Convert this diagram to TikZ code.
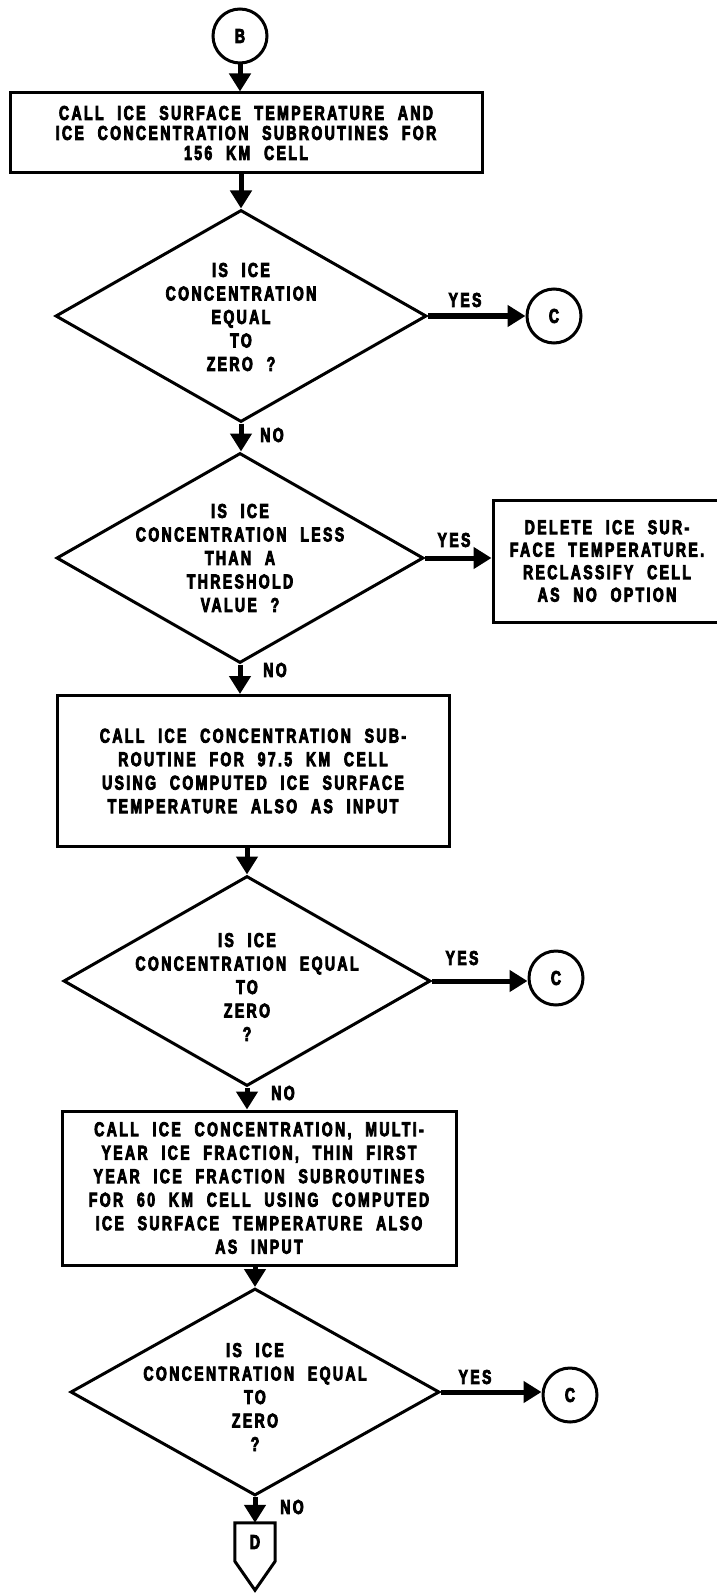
\documentclass[tikz,border=0pt]{standalone}
\usepackage{fontspec}
\setmainfont{Liberation Sans}[FakeStretch=0.7, LetterSpace=12, WordSpace=2.2, BoldFeatures={FakeBold=4}]
\usetikzlibrary{shapes.geometric,arrows.meta}

\newcommand{\chartfont}{\bfseries\fontsize{20}{23.5}\selectfont}

\tikzset{
  flow/.style={line width=5pt, -{Triangle[length=18pt,width=21pt]}},
  box/.style={draw, line width=3pt, rectangle, inner sep=0pt, align=center, font=\chartfont},
  decision/.style={draw, line width=3pt, diamond, inner sep=0pt},
  conn/.style={draw, line width=3pt, circle, minimum size=54pt, inner sep=0pt, font=\chartfont},
  txt/.style={align=center, font=\chartfont},
  answer/.style={font=\chartfont},
}

\begin{document}
\begin{tikzpicture}[x=1pt,y=-1pt]
    \useasboundingbox (0,0) rectangle (716,1594);
    %entry
    \node[conn] (B) at (240,36) {B};
    \node[box, minimum width=472pt, minimum height=80pt, font=\bfseries\fontsize{20}{20}\selectfont] (b1) at (246,133)
        {CALL ICE SURFACE TEMPERATURE AND\\ICE CONCENTRATION SUBROUTINES FOR\\156 KM CELL};
    \draw[flow] (B.south) -- (B.south |- b1.north);
    %first test
    \node[decision, minimum width=371pt, minimum height=212pt] (d1) at (241,316) {};
    \node[txt, yshift=-1pt] at (d1) {IS ICE\\CONCENTRATION\\EQUAL\\TO\\ZERO ?};
    \draw[flow] (b1.south -| d1.north) -- (d1.north);
    \node[conn] (c1) at (554,316) {C};
    \draw[flow] (d1.east) -- (c1.west);
    \node[answer] (yes1) at (465,300) {YES};
    %threshold test
    \node[decision, minimum width=367pt, minimum height=210pt] (d2) at (240,558) {};
    \node[txt] at (d2) {IS ICE\\CONCENTRATION LESS\\THAN A\\THRESHOLD\\VALUE ?};
    \draw[flow] (d1.south) -- (d1.south |- d2.north);
    \node[answer] (no1) at (272,435) {NO};
    \node[box, minimum width=228pt, minimum height=122pt, font=\bfseries\fontsize{20}{22.5}\selectfont] (b2) at (607,561)
        {DELETE ICE SUR-\\FACE TEMPERATURE.\\RECLASSIFY CELL\\AS NO OPTION};
    \draw[flow] (d2.east) -- (d2.east -| b2.west);
    \node[answer] (yes2) at (454,540) {YES};
    %97.5 km cell
    \node[box, minimum width=392pt, minimum height=151pt] (b3) at (253,771)
        {CALL ICE CONCENTRATION SUB-\\ROUTINE FOR 97.5 KM CELL\\USING COMPUTED ICE SURFACE\\TEMPERATURE ALSO AS INPUT};
    \draw[flow] (d2.south) -- (d2.south |- b3.north);
    \node[answer] (no2) at (275,670) {NO};
    \node[decision, minimum width=367pt, minimum height=210pt] (d3) at (247,981) {};
    \node[txt, yshift=-6pt] at (d3) {IS ICE\\CONCENTRATION EQUAL\\TO\\ZERO\\?};
    \draw[flow] (b3.south -| d3.north) -- (d3.north);
    \node[conn] (c2) at (556,978) {C};
    \draw[flow] (d3.east) -- (d3.east -| c2.west);
    \node[answer] (yes3) at (462,958) {YES};
    %60 km cell
    \node[box, minimum width=394pt, minimum height=154pt] (b4) at (259,1188)
        {CALL ICE CONCENTRATION, MULTI-\\YEAR ICE FRACTION, THIN FIRST\\YEAR ICE FRACTION SUBROUTINES\\FOR 60 KM CELL USING COMPUTED\\ICE SURFACE TEMPERATURE ALSO\\AS INPUT};
    \draw[flow] (d3.south) -- (d3.south |- b4.north);
    \node[answer] (no3) at (283,1093) {NO};
    \node[decision, minimum width=369pt, minimum height=207pt] (d4) at (255,1392) {};
    \node[txt, yshift=-5pt] at (d4) {IS ICE\\CONCENTRATION EQUAL\\TO\\ZERO\\?};
    \draw[flow] (b4.south -| d4.north) -- (d4.north);
    \node[conn] (c3) at (570,1395) {C};
    \draw[flow] (d4.east) -- (d4.east -| c3.west);
    \node[answer] (yes4) at (475,1377) {YES};
    %off-page connector
    \node[inner sep=0pt, minimum width=40pt, minimum height=38pt, font=\chartfont] (pD) at (255,1542) {D};
    \draw[line width=3pt, line join=miter] (pD.north west) -- (pD.north east) -- (pD.south east)
        -- ([yshift=-29pt]pD.south) -- (pD.south west) -- cycle;
    \draw[flow] (d4.south) -- (d4.south |- pD.north);
    \node[answer] (no4) at (292,1507) {NO};
\end{tikzpicture}
\end{document}
